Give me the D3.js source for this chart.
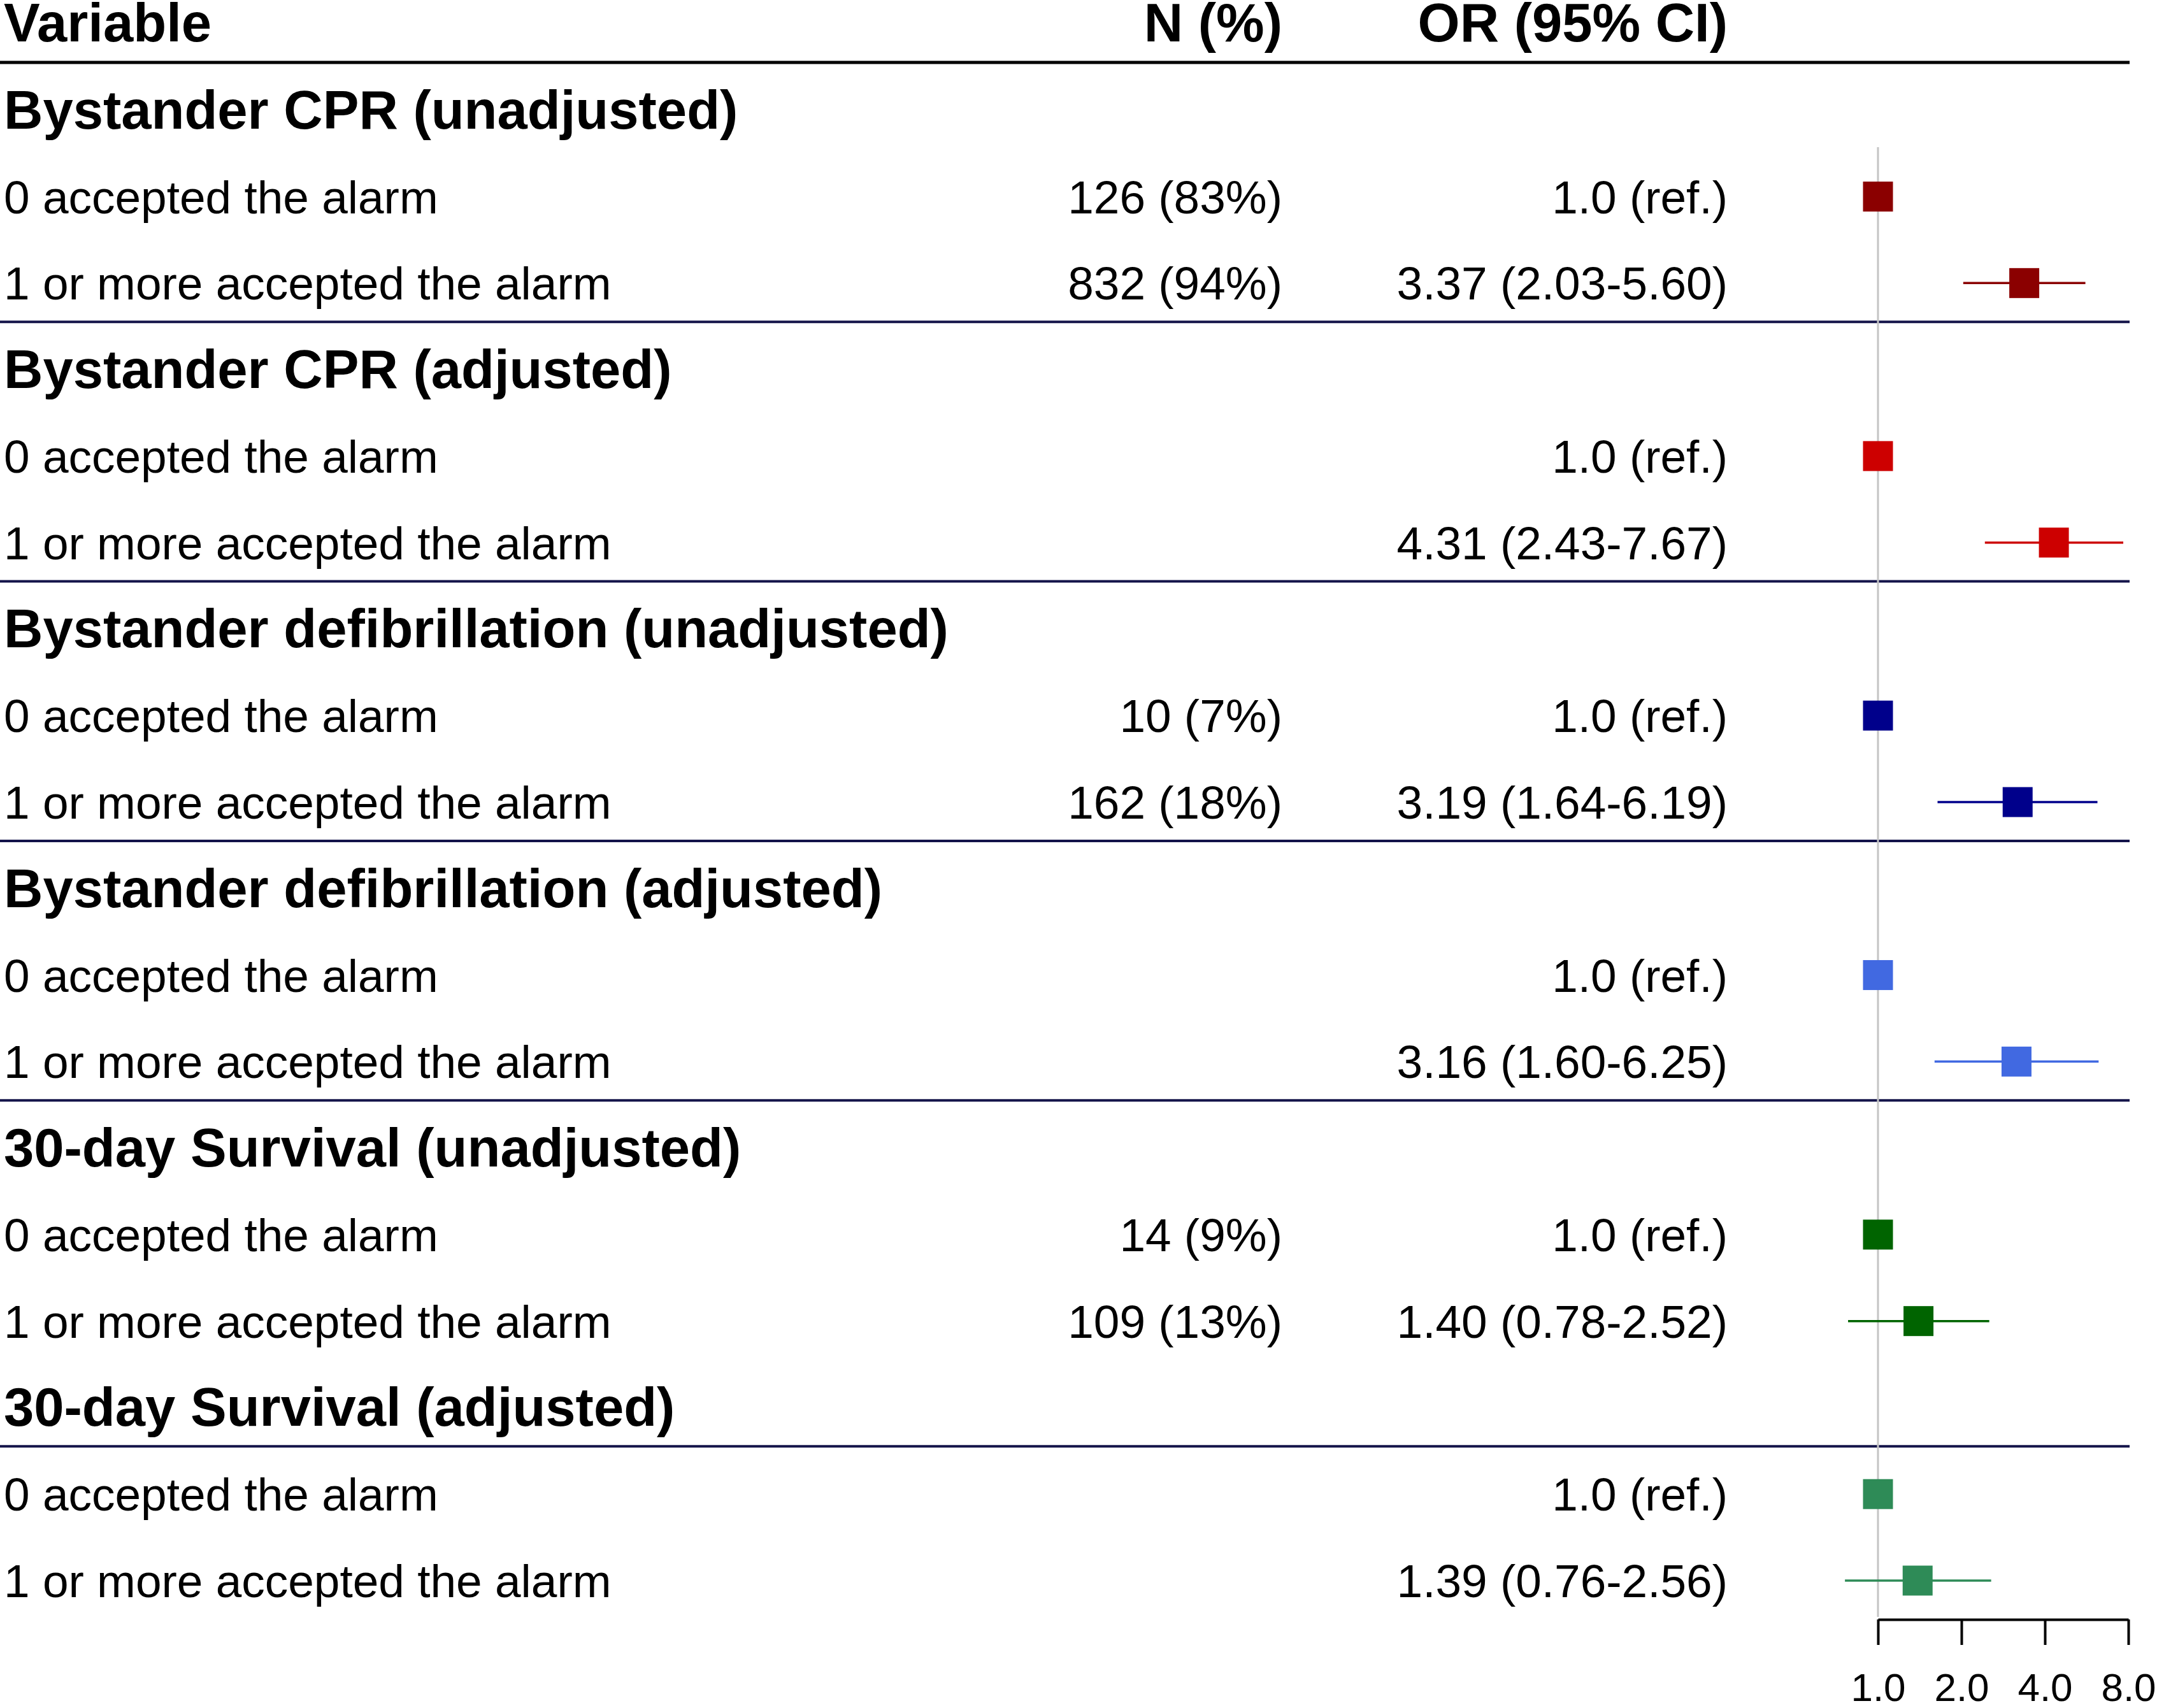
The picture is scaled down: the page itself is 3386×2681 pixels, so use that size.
<!DOCTYPE html>
<html>
<head>
<meta charset="utf-8">
<script src="https://cdn.jsdelivr.net/npm/d3@7"></script>
<style>
  body { margin: 0; background: #fff; }
  text { font-family: "Liberation Sans", Arial, sans-serif; fill: #000; }
</style>
</head>
<body>
<svg id="chart" width="3386" height="2681"></svg>
<script>
// table data
var groups = ["Bystander CPR (unadjusted)", "Bystander CPR (adjusted)",
              "Bystander defibrillation (unadjusted)", "Bystander defibrillation (adjusted)",
              "30-day Survival (unadjusted)", "30-day Survival (adjusted)"];
var rowLabels = ["0 accepted the alarm", "1 or more accepted the alarm"];
var nCounts = [[126, 832], null, [10, 162], null, [14, 109], null];
var nPcts   = [[83, 94],   null, [7, 18],   null, [9, 13],   null];
var orEst  = [3.37, 4.31, 3.19, 3.16, 1.40, 1.39];
var ciLow  = [2.03, 2.43, 1.64, 1.60, 0.78, 0.76];
var ciHigh = [5.60, 7.67, 6.19, 6.25, 2.52, 2.56];
var colors = ["#8b0000", "#cd0000", "#00008b", "#4169e1", "#006400", "#2e8b57"];
var tickValues = [1, 2, 4, 8];
// separator lines sit below these row indices (-1 = column header)
var separators = [-1, 2, 5, 8, 11, 15];

var svg = d3.select("#chart");
var fs = 73, fsBold = 85;

// one row every ~136px, header row is index -1
var y = d3.scaleLinear().domain([-1, 17]).range([37, 2481]);
var x = d3.scaleLog().base(2).domain([1, 8]).range([2948, 3341]);

var colLabel = 6, colN = 2013, colOR = 2712;

// build flat row list
var rows = [];
groups.forEach(function(g, gi){
    rows.push({type: "group", text: g, i: gi * 3});
    rowLabels.forEach(function(l, li){
        rows.push({type: "item", text: l, i: gi * 3 + 1 + li, g: gi, ref: li == 0});
    });
});

// separators
svg.selectAll(".sep").data(separators).enter().append("line")
    .attr("class", "sep")
    .attr("x1", 0).attr("x2", 3343)
    .attr("y1", d => (y(d) + y(d + 1)) / 2 - 7)
    .attr("y2", d => (y(d) + y(d + 1)) / 2 - 7)
    .attr("stroke", d => d == -1 ? "#000" : "#14144a")
    .attr("stroke-width", d => d == -1 ? 5 : 4);

// reference line at OR = 1
svg.append("line")
    .attr("x1", x(1)).attr("x2", x(1))
    .attr("y1", 231).attr("y2", 2538)
    .attr("stroke", "#c4c4c4").attr("stroke-width", 3);

// column headers
var hdr = svg.append("g").style("font-weight", "bold").style("font-size", fsBold + "px");
hdr.append("text").attr("x", colLabel).attr("y", y(-1) + 28).text("Variable");
hdr.append("text").attr("x", colN).attr("y", y(-1) + 28).attr("text-anchor", "end").text("N (%)");
hdr.append("text").attr("x", colOR).attr("y", y(-1) + 28).attr("text-anchor", "end").text("OR (95% CI)");

// row labels
svg.selectAll(".lab").data(rows).enter().append("text")
    .attr("class", "lab")
    .attr("x", colLabel)
    .attr("y", d => y(d.i) + (d.type == "group" ? 29 : 26))
    .style("font-size", d => (d.type == "group" ? fsBold : fs) + "px")
    .style("font-weight", d => d.type == "group" ? "bold" : "normal")
    .text(d => d.text);

var items = rows.filter(d => d.type == "item");

// N (%) column
svg.selectAll(".ncol").data(items.filter(d => nCounts[d.g])).enter().append("text")
    .attr("class", "ncol")
    .attr("x", colN).attr("y", d => y(d.i) + 26)
    .attr("text-anchor", "end")
    .style("font-size", fs + "px")
    .text(function(d){
        var k = d.ref ? 0 : 1;
        return nCounts[d.g][k] + " (" + nPcts[d.g][k] + "%)";
    });

// OR column
svg.selectAll(".orcol").data(items).enter().append("text")
    .attr("class", "orcol")
    .attr("x", colOR).attr("y", d => y(d.i) + 26)
    .attr("text-anchor", "end")
    .style("font-size", fs + "px")
    .text(d => d.ref ? "1.0 (ref.)"
          : orEst[d.g].toFixed(2) + " (" + ciLow[d.g].toFixed(2) + "-" + ciHigh[d.g].toFixed(2) + ")");

// confidence intervals
svg.selectAll(".ci").data(items.filter(d => !d.ref)).enter().append("line")
    .attr("class", "ci")
    .attr("x1", d => x(ciLow[d.g])).attr("x2", d => x(ciHigh[d.g]))
    .attr("y1", d => y(d.i)).attr("y2", d => y(d.i))
    .attr("stroke", d => colors[d.g]).attr("stroke-width", 3.5);

// point estimates
var sq = 47;
svg.selectAll(".pt").data(items).enter().append("rect")
    .attr("class", "pt")
    .attr("x", d => x(d.ref ? 1 : orEst[d.g]) - sq / 2)
    .attr("y", d => y(d.i) - sq / 2)
    .attr("width", sq).attr("height", sq)
    .attr("fill", d => colors[d.g]);

// axis
var axis = svg.append("g")
    .attr("transform", "translate(0,2542)")
    .call(d3.axisBottom(x).tickValues(tickValues).tickFormat(d3.format(".1f"))
          .tickSize(40).tickSizeOuter(0).tickPadding(44));
axis.select(".domain").attr("stroke", "#000").attr("stroke-width", 4);
axis.selectAll(".tick line").attr("stroke", "#000").attr("stroke-width", 4);
axis.selectAll(".tick text")
    .style("font-family", "'Liberation Sans', Arial, sans-serif")
    .style("font-size", "62px").attr("fill", "#000");
</script>
</body>
</html>
